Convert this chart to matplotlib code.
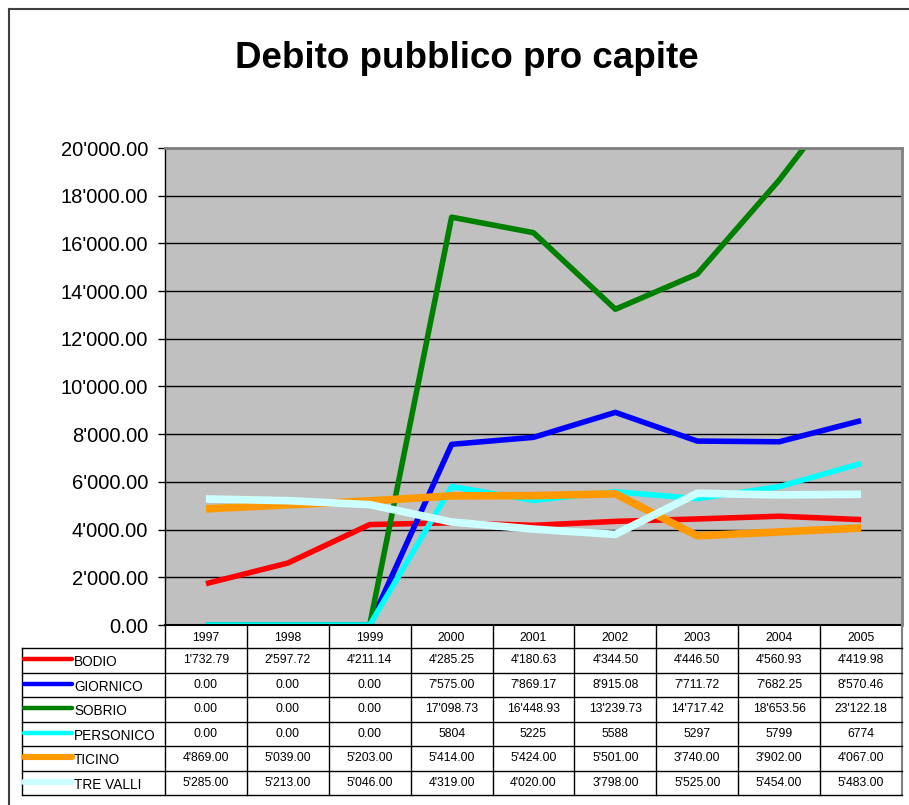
import matplotlib
matplotlib.use("Agg")
import matplotlib.pyplot as plt
from matplotlib.ticker import FuncFormatter

plt.rcParams['font.family'] = ['Liberation Sans', 'DejaVu Sans']

years = ["1997", "1998", "1999", "2000", "2001", "2002", "2003", "2004", "2005"]
series_names = ["BODIO", "GIORNICO", "SOBRIO", "PERSONICO", "TICINO", "TRE VALLI"]

bodio = [1732.79, 2597.72, 4211.14, 4285.25, 4180.63, 4344.50, 4446.50, 4560.93, 4419.98]
giornico = [0.00, 0.00, 0.00, 7575.00, 7869.17, 8915.08, 7711.72, 7682.25, 8570.46]
sobrio = [0.00, 0.00, 0.00, 17098.73, 16448.93, 13239.73, 14717.42, 18653.56, 23122.18]
personico = [0.00, 0.00, 0.00, 5804, 5225, 5588, 5297, 5799, 6774]
ticino = [4869.00, 5039.00, 5203.00, 5414.00, 5424.00, 5501.00, 3740.00, 3902.00, 4067.00]
tre_valli = [5285.00, 5213.00, 5046.00, 4319.00, 4020.00, 3798.00, 5525.00, 5454.00, 5483.00]

# PERSONICO values are shown without decimals in the table
personico_labels = ["0.00", "0.00", "0.00", "5804", "5225", "5588", "5297", "5799", "6774"]

colors = ["#FF0000", "#0000FF", "#008000", "#00FFFF", "#FF9900", "#CCFFFF"]
widths = [4.0, 4.0, 4.0, 4.0, 5.5, 5.5]
all_series = [bodio, giornico, sobrio, personico, ticino, tre_valli]

def swiss(v):
    s = f"{v:,.2f}"
    return s.replace(",", "'")

W, H = 909, 805
fig = plt.figure(figsize=(W / 100, H / 100), dpi=100)

# Plot area in pixel coordinates
px_left, px_right, px_top, px_bottom = 165, 902, 148, 625
ax = fig.add_axes([px_left / W, 1 - px_bottom / H,
                   (px_right - px_left) / W, (px_bottom - px_top) / H])
ax.set_facecolor("#C0C0C0")
x = [i + 0.5 for i in range(len(years))]
ax.set_xlim(0, len(years))
ax.set_ylim(0, 20000)
ax.set_yticks(range(0, 20001, 2000))
ax.yaxis.set_major_formatter(FuncFormatter(lambda v, p: swiss(v)))
ax.tick_params(axis='y', labelsize=14.5, length=5, width=1, direction='out', pad=7)
ax.set_xticks([])
ax.grid(axis='y', color='black', linewidth=1)
ax.set_axisbelow(True)
for side in ["top", "right"]:
    ax.spines[side].set_color("#808080")
    ax.spines[side].set_linewidth(2)
ax.spines["left"].set_color("black")
ax.spines["bottom"].set_color("black")
ax.spines["left"].set_linewidth(1)
ax.spines["bottom"].set_linewidth(1.5)

for vals, c, lw in zip(all_series, colors, widths):
    ax.plot(x, vals, color=c, linewidth=lw, solid_capstyle='butt', clip_on=True)

# Overlay in pixel coordinates for the title, frame and data table
ov = fig.add_axes([0, 0, 1, 1], zorder=-1)
ov.set_xlim(0, W)
ov.set_ylim(H, 0)
ov.axis("off")

ov.text(467, 58, "Debito pubblico pro capite", ha='center', va='center',
        fontsize=26.5, fontweight='bold')

# Outer chart frame
ov.plot([8.5, 8.5], [H + 5, 9.5], color="#404040", linewidth=1.5)
ov.plot([8.5, W + 5], [9.5, 9.5], color="#404040", linewidth=1.5)

tab = fig.add_axes([0, 0, 1, 1], zorder=3)
tab.set_xlim(0, W)
tab.set_ylim(H, 0)
tab.axis("off")

col_w = (px_right - px_left) / len(years)
row_edges = [625, 648, 672.5, 697, 721.5, 746, 770.5, 795]
legend_left = 22

# Vertical column lines
for i in range(len(years) + 1):
    xx = px_left + i * col_w
    c = "#808080" if i == len(years) else "black"
    tab.plot([xx, xx], [row_edges[0], row_edges[-1]], color=c,
             linewidth=1.5 if i == len(years) else 1)
tab.plot([legend_left, legend_left], [row_edges[1], row_edges[-1]], color="black", linewidth=1)
# Horizontal row lines
for j, yy in enumerate(row_edges[1:], start=1):
    tab.plot([legend_left, px_right], [yy, yy], color="black", linewidth=1)

# Header with years
for i, yr in enumerate(years):
    tab.text(px_left + (i + 0.5) * col_w, (row_edges[0] + row_edges[1]) / 2 + 1, yr,
             ha='center', va='center', fontsize=8.8)

# Data rows with legend keys
for r, (name, vals, c, lw) in enumerate(zip(series_names, all_series, colors, widths)):
    y0, y1 = row_edges[r + 1], row_edges[r + 2]
    yc = (y0 + y1) / 2
    tab.plot([24, 72], [yc - 1, yc - 1], color=c, linewidth=lw * 0.8, solid_capstyle='round')
    tab.text(74, yc + 2, name, ha='left', va='center', fontsize=9.8)
    labels = personico_labels if name == "PERSONICO" else [swiss(v) for v in vals]
    for i, lab in enumerate(labels):
        tab.text(px_left + (i + 0.5) * col_w, yc, lab, ha='center', va='center', fontsize=8.8)

fig.savefig("out.png", dpi=100)
